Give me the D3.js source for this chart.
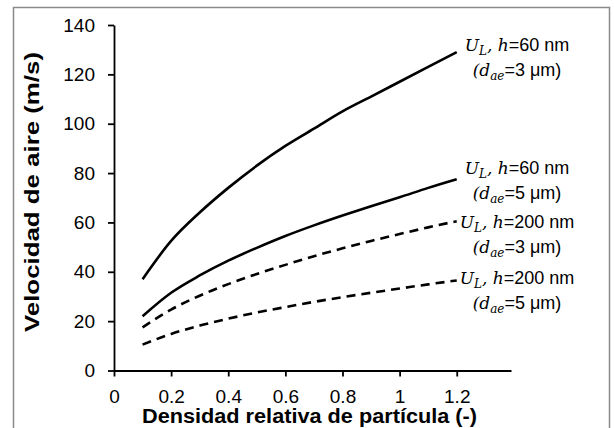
<!DOCTYPE html>
<html lang="en">
<head>
  <meta charset="UTF-8" />
  <title>Velocidad de aire vs densidad relativa</title>
  <script src="https://cdn.jsdelivr.net/npm/d3@7"></script>
  <style>
    body {
      margin: 0;
      background: #fff;
    }
    svg text {
      font-family: "Liberation Sans", Arial, sans-serif;
      fill: #000;
    }
    .math {
      font-family: "DejaVu Serif", "Liberation Serif", serif;
      font-style: italic;
    }
  </style>
</head>
<body>
  <div id="chart"></div>

  <script>
    // data
    const density = [0.1, 0.2, 0.3, 0.4, 0.5, 0.6, 0.7, 0.8, 0.9, 1.0, 1.1, 1.2];
    const h60d3  = [37, 52.5, 64, 74, 83, 91, 98, 105, 111, 117, 123, 129];
    const h60d5  = [22, 31.5, 38.5, 44.5, 49.7, 54.5, 58.8, 62.8, 66.6, 70.2, 74, 77.5];
    const h200d3 = [17.5, 24.7, 30.3, 35, 39.1, 42.8, 46.3, 49.5, 52.5, 55.3, 58, 60.5];
    const h200d5 = [10.5, 14.8, 18.2, 21, 23.5, 25.7, 27.8, 29.7, 31.5, 33.2, 34.9, 36.5];

    const seriesNames = ["h60d3", "h60d5", "h200d3", "h200d5"];
    const seriesH = ["60", "60", "200", "200"];
    const seriesD = ["3", "5", "3", "5"];
    const labelY = [132, 82, 60.2, 37.5];   // where each annotation sits (m/s)

    const xTicks = [0, 0.2, 0.4, 0.6, 0.8, 1, 1.2];
    const yTicks = [0, 20, 40, 60, 80, 100, 120, 140];

    const width = 614;
    const height = 428;

    const svg = d3.select("#chart")
      .append("svg")
      .attr("width", width)
      .attr("height", height);

    svg.append("rect")
      .attr("width", width)
      .attr("height", height)
      .attr("fill", "#fff");

    // outer frame
    svg.append("rect")
      .attr("x", 13.5)
      .attr("y", 7.5)
      .attr("width", 596)
      .attr("height", 440)
      .attr("fill", "none")
      .attr("stroke", "#8a8a8a")
      .attr("stroke-width", 1.5);

    const x = d3.scaleLinear().domain([0, 1.39]).range([114, 511]);
    const y = d3.scaleLinear().domain([0, 140]).range([370.5, 25]);

    const xAxis = svg.append("g")
      .attr("transform", `translate(0, ${y(0)})`)
      .call(d3.axisBottom(x)
        .tickValues(xTicks)
        .tickFormat(d3.format("~g"))
        .tickSize(6)
        .tickSizeOuter(0)
        .tickPadding(13));

    const yAxis = svg.append("g")
      .attr("transform", `translate(${x(0)}, 0)`)
      .call(d3.axisLeft(y)
        .tickValues(yTicks)
        .tickSize(6)
        .tickSizeOuter(0)
        .tickPadding(13));

    [xAxis, yAxis].forEach(g => {
      g.selectAll("path, line").attr("stroke", "#000").attr("stroke-width", 1.8);
      g.selectAll("text")
        .attr("font-size", 19)
        .attr("font-family", "'Liberation Sans', Arial, sans-serif")
        .attr("fill", "#000");
    });

    // axis titles
    svg.append("text")
      .attr("x", 309.5)
      .attr("y", 423)
      .attr("text-anchor", "middle")
      .attr("font-size", 20)
      .attr("font-weight", "bold")
      .attr("textLength", 335)
      .attr("lengthAdjust", "spacingAndGlyphs")
      .text("Densidad relativa de partícula (-)");

    svg.append("text")
      .attr("transform", "translate(39, 192) rotate(-90)")
      .attr("text-anchor", "middle")
      .attr("font-size", 20)
      .attr("font-weight", "bold")
      .attr("textLength", 280)
      .attr("lengthAdjust", "spacingAndGlyphs")
      .text("Velocidad de aire (m/s)");

    // curves
    const allSeries = [h60d3, h60d5, h200d3, h200d5];
    const line = d3.line()
      .x((d, i) => x(density[i]))
      .y(d => y(d))
      .curve(d3.curveMonotoneX);

    svg.selectAll(".curve")
      .data(allSeries)
      .enter()
      .append("path")
      .attr("class", "curve")
      .attr("d", line)
      .attr("fill", "none")
      .attr("stroke", "#000")
      .attr("stroke-width", 2.6)
      .attr("stroke-dasharray", (d, i) => seriesH[i] === "200" ? "9,6" : null);

    // annotations
    const labelX = 517;
    seriesNames.forEach((name, i) => {
      const cy = y(labelY[i]);

      const t1 = svg.append("text")
        .attr("x", labelX)
        .attr("y", cy + 6)
        .attr("text-anchor", "middle")
        .attr("font-size", 18);
      t1.append("tspan").attr("class", "math").attr("font-size", 17).text("U");
      t1.append("tspan").attr("class", "math").attr("font-size", 12).attr("dy", 4).text("L");
      t1.append("tspan").attr("class", "math").attr("font-size", 17).attr("dy", -4).text(", h");
      t1.append("tspan").text(`=${seriesH[i]} nm`);

      const t2 = svg.append("text")
        .attr("x", labelX)
        .attr("y", cy + 31)
        .attr("text-anchor", "middle")
        .attr("font-size", 18);
      t2.append("tspan").attr("class", "math").attr("font-size", 17).attr("font-style", "normal").text("(");
      t2.append("tspan").attr("class", "math").attr("font-size", 17).text("d");
      t2.append("tspan").attr("class", "math").attr("font-size", 12).attr("dy", 4).text("ae");
      t2.append("tspan").attr("dy", -4).text(`=${seriesD[i]} μm)`);
    });
  </script>
</body>
</html>
